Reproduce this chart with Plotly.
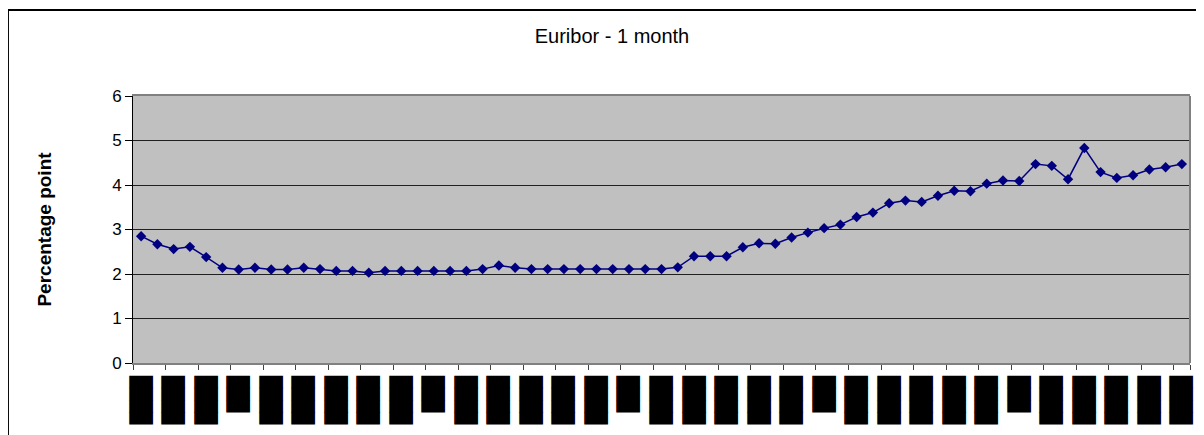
import pandas as pd
import plotly.graph_objects as go

# monthly 1-month Euribor, Feb 2003 - Jun 2008
months = pd.period_range('2003-02', periods=65, freq='M').strftime('%b-%y').tolist()
rates = [2.85, 2.67, 2.56, 2.61, 2.38, 2.14, 2.10, 2.14, 2.10, 2.10, 2.14, 2.11,
         2.07, 2.07, 2.03, 2.07, 2.07, 2.07, 2.07, 2.07, 2.07, 2.11, 2.19, 2.14,
         2.11, 2.11, 2.11, 2.11, 2.11, 2.11, 2.11, 2.11, 2.11, 2.15, 2.40, 2.40,
         2.40, 2.60, 2.69, 2.68, 2.82, 2.93, 3.03, 3.11, 3.28, 3.38, 3.59, 3.65,
         3.62, 3.76, 3.87, 3.86, 4.03, 4.10, 4.09, 4.47, 4.43, 4.13, 4.83, 4.29,
         4.16, 4.22, 4.35, 4.40, 4.47]

# x labels render as solid blocks in the original
tick_text = ['████', '████', '████', '███', '████', '████',
             '████', '████', '████', '███', '████', '████',
             '████', '████', '████', '███', '████', '████',
             '████', '████', '████', '███', '████', '████',
             '████', '████', '████', '███', '████', '████',
             '████', '████', '████']
tick_vals = months[::2]

fig = go.Figure(go.Scatter(
    x=months, y=rates, mode='lines+markers',
    line=dict(color='#000080', width=1.5),
    marker=dict(symbol='diamond', size=8, color='#000080'),
))

fig.update_layout(
    width=1204, height=435,
    margin=dict(l=125, r=22, t=88, b=80),
    plot_bgcolor='#c0c0c0', paper_bgcolor='white',
    showlegend=False,
    font=dict(family='Liberation Sans, Arial', color='black'),
    title=dict(text='Euribor - 1 month', x=604 / 1204, xref='container', xanchor='center',
               y=1 - 28 / 435, yref='container', yanchor='middle',
               font=dict(size=20, color='black')),
    xaxis=dict(type='category', range=[-0.5, 64.5],
               tickmode='array', tickvals=tick_vals, ticktext=tick_text,
               tickangle=-90, tickson='boundaries',
               ticks='outside', ticklen=5, tickcolor='#404040',
               tickfont=dict(family='DejaVu Sans Mono', size=20, color='black'),
               ticklabelstandoff=3,
               showline=True, linecolor='#808080', linewidth=2, mirror=True,
               showgrid=False),
    yaxis=dict(range=[0, 6], dtick=1, showgrid=True, gridcolor='#202020', gridwidth=1,
               zeroline=False, showline=True, linecolor='black', linewidth=1,
               ticks='outside', ticklen=7, tickcolor='black',
               tickfont=dict(size=17),
               title=dict(text='<b>Percentage point</b>', font=dict(size=19), standoff=55)),
    shapes=[
        dict(type='line', xref='paper', yref='paper', x0=1, x1=1, y0=0, y1=1,
             line=dict(color='#808080', width=2)),
        dict(type='rect', xref='paper', yref='paper', x0=-0.1183, x1=1.03, y0=-0.35, y1=1.322,
             line=dict(color='black', width=2)),
    ],
)

fig.write_html('out.html')
